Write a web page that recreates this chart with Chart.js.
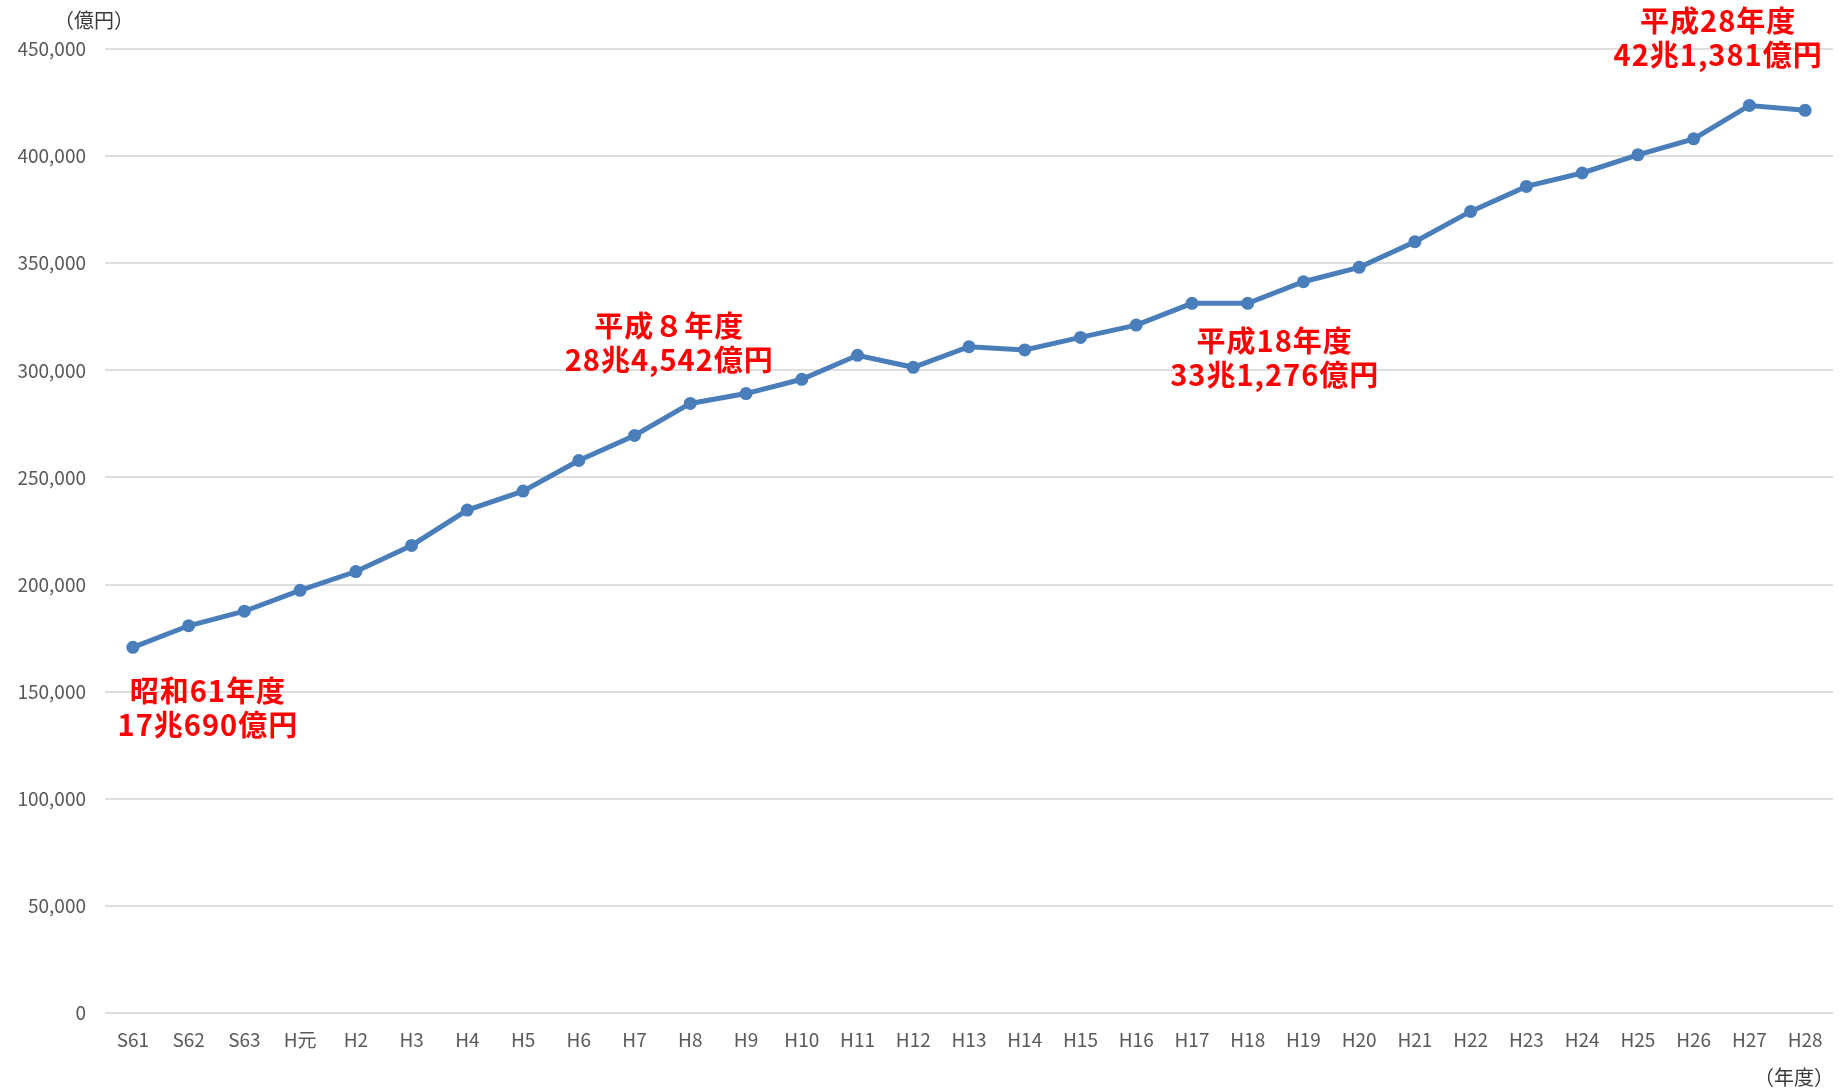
<!DOCTYPE html>
<html lang="ja">
<head>
<meta charset="utf-8">
<title>国民医療費の推移</title>
<script src="https://cdn.jsdelivr.net/npm/chart.js@4.4.1/dist/chart.umd.min.js"></script>
<style>
  html, body { margin: 0; padding: 0; background: #fff; }
  #wrap { position: relative; width: 1840px; height: 1089px; }
</style>
</head>
<body>
<div id="wrap"><canvas id="cost-chart" width="1840" height="1089"></canvas></div>
<script>
// ======= DATA =======
const years = ['S61', 'S62', 'S63', 'H元', 'H2', 'H3', 'H4', 'H5', 'H6', 'H7', 'H8',
  'H9', 'H10', 'H11', 'H12', 'H13', 'H14', 'H15', 'H16', 'H17', 'H18',
  'H19', 'H20', 'H21', 'H22', 'H23', 'H24', 'H25', 'H26', 'H27', 'H28'];

// 億円
const costs = [170690, 180759, 187554, 197290, 206074, 218260, 234784, 243631, 257908, 269577, 284542,
  289149, 295823, 307019, 301418, 310998, 309507, 315375, 321111, 331289, 331276,
  341360, 348084, 360067, 374202, 385850, 392117, 400610, 408071, 423644, 421381];

const yMax = 450000;
const yStep = 50000;

// highlighted years and their era names
const calloutIndex = [0, 10, 20, 30];
const calloutEra = ['昭和61年度', '平成８年度', '平成18年度', '平成28年度'];

const FONT = "'Noto Sans CJK JP', 'Noto Sans', sans-serif";
const LINE_BLUE = '#4a7ebb';

// 170690 -> "17兆690億円"
function formatOku(v) {
  const cho = Math.floor(v / 10000);
  const rest = v % 10000;
  return cho + '兆' + rest.toLocaleString('en-US') + '億円';
}

// ======= CALLOUT + AXIS UNIT PLUGIN =======
const calloutPlugin = {
  id: 'callouts',
  afterDatasetsDraw(chart) {
    const { ctx, scales: { x, y } } = chart;
    // label offset from its point (dx, dy of the first line's center)
    const offsets = [[75, 44], [-21, -77], [27, 38], [-87, -89]];
    ctx.save();
    ctx.fillStyle = '#ff0000';
    ctx.font = 'bold 29px ' + FONT;
    ctx.letterSpacing = '1px';
    ctx.textAlign = 'center';
    ctx.textBaseline = 'middle';
    calloutIndex.forEach((idx, i) => {
      const px = x.getPixelForValue(idx);
      const py = y.getPixelForValue(costs[idx]);
      const cx = px + offsets[i][0];
      const cy = py + offsets[i][1];
      ctx.fillText(calloutEra[i], cx, cy);
      ctx.fillText(formatOku(costs[idx]), cx, cy + 34);
    });

    // unit labels
    ctx.letterSpacing = '0px';
    ctx.fillStyle = '#3a3a3a';
    ctx.font = '20px ' + FONT;
    ctx.textAlign = 'center';
    ctx.fillText('（億円）', chart.chartArea.left - 11, chart.chartArea.top - 29);
    ctx.fillText('（年度）', chart.chartArea.right - 39, chart.chartArea.bottom + 64);
    ctx.restore();
  }
};

// ======= CHART =======
const ctx = document.getElementById('cost-chart').getContext('2d');

new Chart(ctx, {
  type: 'line',
  data: {
    labels: years,
    datasets: [{
      data: costs,
      borderColor: LINE_BLUE,
      backgroundColor: LINE_BLUE,
      borderWidth: 5,
      pointRadius: 6.5,
      pointBackgroundColor: LINE_BLUE,
      pointBorderColor: LINE_BLUE,
      pointBorderWidth: 0,
      tension: 0
    }]
  },
  options: {
    responsive: false,
    animation: false,
    devicePixelRatio: 1,
    layout: { padding: { top: 49, right: 7, left: 0, bottom: 0 } },
    plugins: {
      legend: { display: false },
      tooltip: { enabled: false }
    },
    scales: {
      x: {
        offset: true,
        grid: { display: false, drawTicks: false },
        border: { display: false },
        ticks: {
          color: '#595959',
          padding: 15,
          font: { size: 19, family: FONT },
          maxRotation: 0,
          autoSkip: false
        },
        afterFit(scale) { scale.height = 76; }
      },
      y: {
        min: 0,
        max: yMax,
        grid: { color: '#dedede', lineWidth: 2, drawTicks: false },
        border: { display: false },
        ticks: {
          stepSize: yStep,
          color: '#595959',
          padding: 19,
          font: { size: 19, family: FONT },
          callback: v => v.toLocaleString('en-US')
        },
        afterFit(scale) { scale.width = 105; }
      }
    }
  },
  plugins: [calloutPlugin]
});
</script>
</body>
</html>
